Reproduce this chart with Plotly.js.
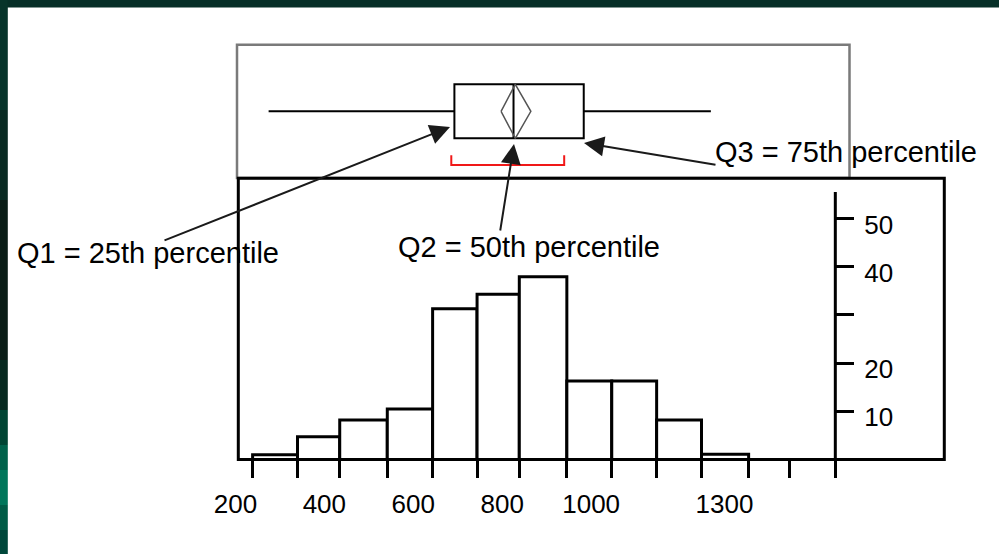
<!DOCTYPE html>
<html>
<head>
<meta charset="utf-8">
<script src="https://cdn.plot.ly/plotly-3.0.1.min.js"></script>
<style>html,body{margin:0;padding:0;background:#fff;}#chart{width:999px;height:554px;}</style>
</head>
<body>
<div id="chart"></div>
<script>
// ---- data ----
const binEdges   = [238, 339, 434, 541, 643, 743, 838, 945, 1046, 1147, 1248, 1354, 1447, 1549];
const binCounts  = [1.0, 4.7, 8.2, 10.5, 31.3, 34.3, 37.9, 16.3, 16.3, 8.2, 1.1, 0, 0];
const xTickValues = [200, 400, 600, 800, 1000, 1300];
const xTickLabels = ['200', '400', '600', '800', '1000', '1300'];
const yTickValues = [10, 20, 30, 40, 50];
const yTickLabels = ['10', '20', '', '40', '50'];
const whiskers   = [274, 1269];          // low, high
const quartiles  = [692, 825, 983];      // Q1, median, Q3
const meanDiamond = [797, 829, 864];     // lower CI, mean, upper CI
const shortestHalf = [685, 939];
const noteTexts  = ['Q1 = 25th percentile', 'Q2 = 50th percentile', 'Q3 = 75th percentile'];

// ---- layout helpers (pixel -> paper) ----
const W = 999, H = 554;
const fx = px => px / W;
const fy = py => 1 - py / H;
const FONT = 'Liberation Sans, Arial, sans-serif';

const centers = binCounts.map((_, i) => (binEdges[i] + binEdges[i + 1]) / 2);
const widths  = binCounts.map((_, i) => binEdges[i + 1] - binEdges[i]);

// x scale: px = 146.5 + 0.4445 * value
const xRange  = [205.8, 1794.2];   // spans the histogram frame (238..944 px)
const xRange2 = [120.4, 1794.2];   // label axis, starts further left (200..944 px)
const yRange = [0, 58.34];

const traces = [
  {
    type: 'bar', x: centers, y: binCounts, width: widths,
    marker: {color: '#ffffff', line: {color: '#000', width: 3}},
    xaxis: 'x', yaxis: 'y', hoverinfo: 'skip', showlegend: false
  },
  {
    type: 'box', orientation: 'h', y0: 0,
    q1: [quartiles[0]], median: [quartiles[1]], q3: [quartiles[2]],
    lowerfence: [whiskers[0]], upperfence: [whiskers[1]],
    width: 0.81, whiskerwidth: 0, fillcolor: '#ffffff', line: {color: '#000', width: 2},
    xaxis: 'x', yaxis: 'y3', hoverinfo: 'skip', showlegend: false
  },
  {
    type: 'scatter', mode: 'lines',
    x: [meanDiamond[0], meanDiamond[1], meanDiamond[2], meanDiamond[1], meanDiamond[0]],
    y: [0, 0.405, 0, -0.405, 0],
    line: {color: '#555', width: 1.5},
    xaxis: 'x', yaxis: 'y3', hoverinfo: 'skip', showlegend: false
  },
  {
    type: 'scatter', mode: 'lines',
    x: [shortestHalf[0], shortestHalf[0], shortestHalf[1], shortestHalf[1]],
    y: [-0.66, -0.805, -0.805, -0.66],
    line: {color: '#f01818', width: 2},
    xaxis: 'x', yaxis: 'y3', hoverinfo: 'skip', showlegend: false
  },
  // invisible trace to activate the label axis
  {
    type: 'scatter', mode: 'markers', x: [xTickValues[1]], y: [0],
    marker: {opacity: 0}, xaxis: 'x2', yaxis: 'y', hoverinfo: 'skip', showlegend: false
  }
];

// left strip colour bands (dark green gradient)
const stripBands = [
  [0, 110, '#07342a'], [110, 200, '#092a22'], [200, 360, '#0b1d17'],
  [360, 410, '#07291f'], [410, 445, '#004433'], [445, 470, '#00614a'],
  [470, 505, '#00765a'], [505, 530, '#005c46'], [530, 554, '#00473a']
];

const shapes = [];
shapes.push({type: 'rect', xref: 'paper', yref: 'paper', x0: 0, x1: 1, y0: fy(7.6), y1: 1,
             fillcolor: '#062f27', line: {width: 0}, layer: 'below'});
stripBands.forEach(b => shapes.push({type: 'rect', xref: 'paper', yref: 'paper',
  x0: 0, x1: fx(7.8), y0: fy(b[1]), y1: fy(b[0]), fillcolor: b[2], line: {width: 0}, layer: 'below'}));
// box-plot panel frame
shapes.push({type: 'rect', xref: 'paper', yref: 'paper', x0: fx(237), x1: fx(849.5), y0: fy(178), y1: fy(44.7),
             line: {color: '#7a7a7a', width: 2.5}, layer: 'below'});
// histogram frame
shapes.push({type: 'rect', xref: 'x domain', yref: 'y domain', x0: 0, x1: 1, y0: 0, y1: 1,
             line: {color: '#000', width: 3}, layer: 'above'});
// vertical count-axis line
shapes.push({type: 'line', xref: 'x', yref: 'y', x0: binEdges[binEdges.length - 1], x1: binEdges[binEdges.length - 1],
             y0: 0, y1: 55.5, line: {color: '#000', width: 3}, layer: 'above'});

const noteFont = {family: FONT, size: 29, color: '#000'};
const arrowStyle = {text: '', showarrow: true, arrowhead: 2, arrowsize: 2, arrowwidth: 2,
                    arrowcolor: '#1a1a1a', standoff: 0, axref: 'pixel', ayref: 'pixel',
                    xref: 'paper', yref: 'paper'};
const annotations = [
  {xref: 'paper', yref: 'paper', x: fx(15), y: fy(253), xanchor: 'left', yanchor: 'middle',
   text: noteTexts[0], showarrow: false, font: noteFont},
  {xref: 'paper', yref: 'paper', x: fx(396), y: fy(247), xanchor: 'left', yanchor: 'middle',
   text: noteTexts[1], showarrow: false, font: noteFont},
  {xref: 'paper', yref: 'paper', x: fx(713), y: fy(152), xanchor: 'left', yanchor: 'middle',
   text: noteTexts[2], showarrow: false, font: noteFont},
  Object.assign({}, arrowStyle, {x: fx(450), y: fy(127), ax: -287, ay: 114}),
  Object.assign({}, arrowStyle, {x: fx(514), y: fy(144), ax: -14, ay: 88}),
  Object.assign({}, arrowStyle, {x: fx(584), y: fy(143), ax: 133, ay: 22})
];

const layout = {
  width: W, height: H,
  margin: {l: 0, r: 0, t: 0, b: 0, pad: 0},
  paper_bgcolor: '#ffffff', plot_bgcolor: 'rgba(0,0,0,0)',
  showlegend: false, bargap: 0,
  font: {family: FONT, color: '#000'},
  xaxis: {
    domain: [fx(238.3), fx(944.3)], range: xRange, anchor: 'y',
    tickmode: 'array', tickvals: binEdges, showticklabels: false,
    ticks: 'outside', ticklen: 17, tickwidth: 3, tickcolor: '#000',
    showgrid: false, zeroline: false, showline: false, fixedrange: true
  },
  xaxis2: {
    domain: [fx(200), fx(944.3)], anchor: 'y', side: 'bottom', range: xRange2,
    tickmode: 'array', tickvals: xTickValues, ticktext: xTickLabels,
    ticks: 'outside', ticklen: 21, tickcolor: 'rgba(0,0,0,0)',
    tickfont: {family: FONT, size: 26, color: '#000'},
    showgrid: false, zeroline: false, showline: false, fixedrange: true
  },
  yaxis: {
    domain: [fy(459.5), fy(178.3)], range: yRange, anchor: 'free', position: fx(835),
    side: 'right', tickmode: 'array', tickvals: yTickValues, ticktext: yTickLabels,
    ticks: 'outside', ticklen: 18, tickwidth: 3, tickcolor: '#000',
    ticklabelstandoff: 5, ticklabelshift: 6,
    tickfont: {family: FONT, size: 26, color: '#000'},
    showgrid: false, zeroline: false, showline: false, fixedrange: true
  },
  yaxis3: {
    domain: [fy(178), fy(44.7)], range: [-1, 1], anchor: 'x',
    visible: false, showgrid: false, zeroline: false, fixedrange: true
  },
  shapes: shapes,
  annotations: annotations
};

Plotly.newPlot('chart', traces, layout, {staticPlot: true, displayModeBar: false});
</script>
</body>
</html>
